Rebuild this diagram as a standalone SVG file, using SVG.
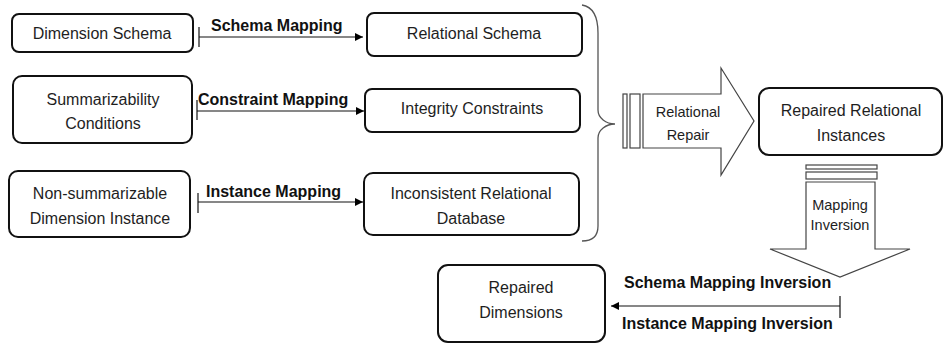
<svg xmlns="http://www.w3.org/2000/svg" width="944" height="344" viewBox="0 0 944 344">
  <defs>
    <marker id="arrow" viewBox="0 0 10 10" refX="10" refY="5" markerWidth="9" markerHeight="8" markerUnits="userSpaceOnUse" orient="auto">
      <path d="M0,0 L10,5 L0,10 z" fill="#000"/>
    </marker>
    <style>
      .box { fill: #fff; stroke: #111; stroke-width: 2; }
      .txt { font-family: "Liberation Sans", Arial, sans-serif; font-size: 16px; fill: #1e1e1e; text-anchor: middle; }
      .small { font-family: "Liberation Sans", Arial, sans-serif; font-size: 14.5px; fill: #1e1e1e; text-anchor: middle; }
      .lbl { font-family: "Liberation Sans", Arial, sans-serif; font-size: 16px; font-weight: bold; fill: #111; }
      .conn { stroke: #111; stroke-width: 1.2; fill: none; }
      .block { fill: #fff; stroke: #444; stroke-width: 1.2; }
    </style>
  </defs>

  <!-- source nodes -->
  <g id="dimension-schema">
    <rect class="box" x="12" y="14" width="181" height="38" rx="7"/>
    <text class="txt" x="102" y="39">Dimension Schema</text>
  </g>
  <g id="summarizability-conditions">
    <rect class="box" x="13" y="76" width="179" height="67" rx="9"/>
    <text class="txt" x="103" y="105">Summarizability</text>
    <text class="txt" x="103" y="129">Conditions</text>
  </g>
  <g id="dimension-instance">
    <rect class="box" x="9" y="171" width="181" height="66" rx="9"/>
    <text class="txt" x="100" y="199">Non-summarizable</text>
    <text class="txt" x="100" y="224">Dimension Instance</text>
  </g>

  <!-- relational nodes -->
  <g id="relational-schema">
    <rect class="box" x="367" y="13" width="215" height="43" rx="7"/>
    <text class="txt" x="474" y="39">Relational Schema</text>
  </g>
  <g id="integrity-constraints">
    <rect class="box" x="365" y="89" width="215" height="43" rx="7"/>
    <text class="txt" x="472" y="114">Integrity Constraints</text>
  </g>
  <g id="inconsistent-database">
    <rect class="box" x="364" y="173" width="215" height="62" rx="9"/>
    <text class="txt" x="471" y="199">Inconsistent Relational</text>
    <text class="txt" x="471" y="224">Database</text>
  </g>

  <!-- repair result -->
  <g id="repaired-instances">
    <rect class="box" x="759" y="88" width="183" height="67" rx="10"/>
    <text class="txt" x="851" y="116">Repaired Relational</text>
    <text class="txt" x="851" y="141">Instances</text>
  </g>

  <g id="repaired-dimensions">
    <rect class="box" x="438" y="265" width="167" height="77" rx="10"/>
    <text class="txt" x="521" y="293">Repaired</text>
    <text class="txt" x="521" y="318">Dimensions</text>
  </g>

  <!-- grouping brace -->
  <g id="brace">
    <path d="M582,5 C594,7 598,18 598,33 L598,110 C598,118 606,124 615,124 C606,124 598,130 598,138 L598,226 C598,236 592,241 582,241" fill="none" stroke="#555" stroke-width="1.3"/>
  </g>

  <!-- relational repair block arrow -->
  <g id="relational-repair">
    <rect class="block" x="623" y="94" width="4" height="54"/>
    <rect class="block" x="630" y="94" width="10" height="54"/>
    <polygon class="block" points="643,94 721,94 721,68 754,121 721,175 721,148 643,148"/>
    <text class="small" x="688" y="117">Relational</text>
    <text class="small" x="688" y="140">Repair</text>
  </g>

  <!-- mapping inversion block arrow -->
  <g id="mapping-inversion">
    <rect class="block" x="806" y="165" width="71" height="4"/>
    <rect class="block" x="806" y="172" width="71" height="7"/>
    <polygon class="block" points="806,182 875,182 875,249 910,249 840,277 770,249 806,249"/>
    <text class="small" x="840" y="210">Mapping</text>
    <text class="small" x="840" y="230">Inversion</text>
  </g>

  <!-- connectors -->
  <g id="connectors">
    <line class="conn" x1="199" y1="27" x2="199" y2="47"/>
    <line class="conn" x1="199" y1="37" x2="363" y2="37" marker-end="url(#arrow)"/>
    <text class="lbl" x="211" y="31">Schema Mapping</text>

    <line class="conn" x1="197" y1="100" x2="197" y2="120"/>
    <line class="conn" x1="197" y1="111" x2="364" y2="111" marker-end="url(#arrow)"/>
    <text class="lbl" x="198" y="105">Constraint Mapping</text>

    <line class="conn" x1="198" y1="193" x2="198" y2="213"/>
    <line class="conn" x1="198" y1="202" x2="363" y2="202" marker-end="url(#arrow)"/>
    <text class="lbl" x="206" y="197">Instance Mapping</text>

    <line class="conn" x1="840" y1="296" x2="840" y2="318"/>
    <line class="conn" x1="840" y1="306" x2="611" y2="306" marker-end="url(#arrow)"/>
    <text class="lbl" x="624" y="288">Schema Mapping Inversion</text>
    <text class="lbl" x="622" y="329">Instance Mapping Inversion</text>
  </g>
</svg>
